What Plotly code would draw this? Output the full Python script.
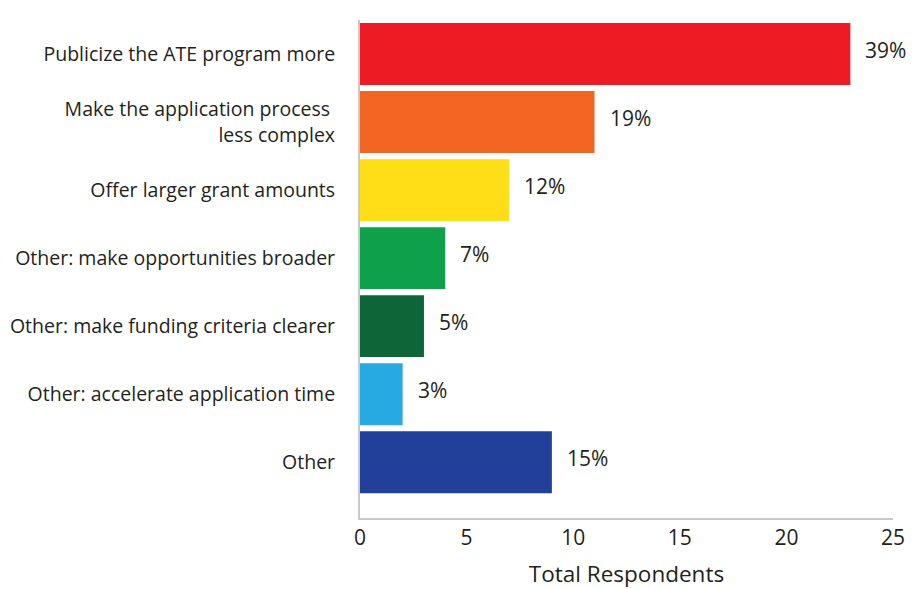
import plotly.graph_objects as go

# survey answers, top to bottom
categories = [
    'Publicize the ATE program more',
    'Make the application process <br>less complex',
    'Offer larger grant amounts',
    'Other: make opportunities broader',
    'Other: make funding criteria clearer',
    'Other: accelerate application time',
    'Other',
]
respondents = [23, 11, 7, 4, 3, 2, 9]
bar_colors = ['#ed1c24', '#f26522', '#ffde17', '#0ea04b', '#0e6537', '#27aae1', '#21409a']
x_ticks = [0, 5, 10, 15, 20, 25]

total = sum(respondents)
pct_labels = [f'{round(v / total * 100)}%' for v in respondents]

text_color = '#231f20'
font_family = 'Open Sans, Noto Sans, sans-serif'

fig = go.Figure(go.Bar(
    x=respondents,
    y=categories,
    orientation='h',
    marker=dict(color=bar_colors, line=dict(width=0)),
    width=0.91,
))

for v, cat, lab in zip(respondents, categories, pct_labels):
    fig.add_annotation(x=v, y=cat, text=lab, showarrow=False,
                       xanchor='left', xshift=13, yshift=4,
                       font=dict(size=21, color=text_color, family=font_family))

fig.add_annotation(x=0.0, xref='paper', y=-0.133, yref='paper', xanchor='left',
                   yanchor='top', xshift=-350, text='N = 59', showarrow=False,
                   font=dict(size=17, color=text_color, family=font_family))

# page body adds an 8px offset, so the figure is 8px smaller than the window
fig.update_layout(
    width=909, height=581,
    margin=dict(l=352, r=24, t=12, b=71, autoexpand=False),
    paper_bgcolor='white', plot_bgcolor='white',
    showlegend=False,
    font=dict(family=font_family, color=text_color),
)
fig.update_xaxes(
    range=[0, 25], tickvals=x_ticks, showgrid=False, zeroline=False,
    showline=True, linecolor='#c8c8c8', linewidth=2, automargin=False,
    tickfont=dict(size=21, color=text_color), ticks='', ticklabelstandoff=0,
    title=dict(text='Total Respondents', font=dict(size=22.5, color=text_color), standoff=16),
)
fig.update_yaxes(
    categoryorder='array', categoryarray=categories,
    range=[6.82, -0.5], showgrid=False, zeroline=False,
    showline=True, linecolor='#c8c8c8', linewidth=2, automargin=False,
    tickfont=dict(size=19.5, color=text_color), ticks='', ticklabelstandoff=19,
)

fig.write_html('out.html')
